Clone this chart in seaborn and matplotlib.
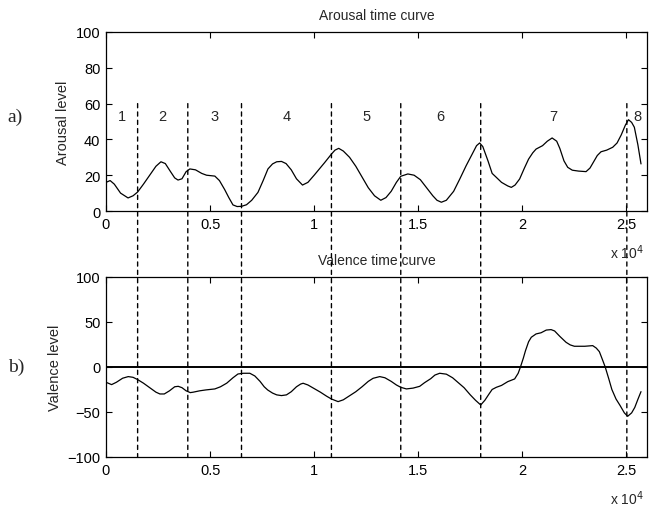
import numpy as np
import pandas as pd
import matplotlib
matplotlib.use("Agg")
import matplotlib.pyplot as plt
from matplotlib.patches import ConnectionPatch
import seaborn as sns

# arousal curve (sample index, level)
arousal_t = [0, 200, 400, 700, 1060, 1300, 1520, 1800, 2100, 2400, 2640, 2850,
             3100, 3300, 3460, 3650, 3850, 4030, 4300, 4600, 4830, 5230, 5450,
             5700, 5900, 6100, 6300, 6510, 6750, 7000, 7300, 7550, 7780, 8000,
             8200, 8430, 8650, 8900, 9150, 9440, 9700, 10000, 10500, 10830, 11000,
             11180, 11400, 11700, 12000, 12300, 12600, 12900, 13200, 13450, 13700,
             13950, 14160, 14500, 14800, 15100, 15400, 15700, 15900, 16110, 16350,
             16700, 17000, 17300, 17600, 17800, 17950, 18100, 18350, 18550, 18750,
             19000, 19300, 19470, 19650, 19870, 20100, 20300, 20500, 20660, 20970,
             21200, 21430, 21650, 21800, 22000, 22180, 22400, 22700, 23060, 23250,
             23400, 23600, 23780, 24050, 24340, 24550, 24750, 24950, 25100, 25250,
             25380, 25550, 25700]
arousal_v = [16, 17, 15, 10, 7.3, 8.5, 10.6, 15, 20, 25, 27.5, 26.5,
             22, 18.5, 17.3, 18, 22, 23.5, 23, 21, 20, 19.5, 17,
             12, 7.5, 3.4, 2.5, 2.6, 3.5, 6, 10.4, 17, 23.5, 26.3,
             27.5, 27.7, 26.5, 23, 18, 14.5, 16, 20, 27, 31.8, 34,
             35, 33.5, 30, 25, 19, 13, 8.5, 6, 7.5, 11,
             16, 19.4, 20.7, 20, 17.5, 13, 8.5, 6, 4.9, 6,
             11, 18, 25.3, 32, 36.5, 38, 36, 28, 21, 18.8,
             16, 14, 13.2, 14.5, 17.9, 24, 29, 32.5, 34.6, 36.5,
             39, 40.8, 39, 35, 28, 24.4, 22.8, 22.3, 22, 24,
             27, 31, 33.1, 34, 35.6, 38, 42.5, 48, 51, 49.5,
             46.8, 37, 26.3]

# valence curve
valence_t = [0, 270, 500, 800, 1070, 1300, 1520, 1800, 2100, 2400, 2590, 2800,
             3050, 3300, 3470, 3650, 3850, 4050, 4190, 4500, 4800, 5230, 5500,
             5800, 6100, 6340, 6600, 6910, 7150, 7400, 7600, 7770, 8000, 8200,
             8430, 8670, 8900, 9150, 9350, 9470, 9700, 10000, 10300, 10600, 10830,
             11150, 11400, 11700, 12000, 12300, 12600, 12830, 13150, 13400, 13700,
             13950, 14160, 14430, 14750, 15070, 15300, 15600, 15800, 16030, 16350,
             16650, 16900, 17200, 17500, 17750, 18000, 18200, 18400, 18550, 18750,
             19000, 19300, 19630, 19800, 19910, 20050, 20150, 20300, 20430, 20660,
             20900, 21150, 21380, 21550, 21800, 22100, 22300, 22500, 23000, 23380,
             23550, 23700, 23850, 23980, 24150, 24300, 24500, 24700, 24900, 25060,
             25250, 25400, 25550, 25700]
valence_v = [-17, -19.6, -17, -12.5, -10.7, -11.5, -14, -18, -23, -28, -30, -30,
             -26.5, -22, -21.5, -23, -26.5, -28.5, -28, -26.5, -25.5, -24.4, -22,
             -18, -12, -7.8, -7, -7, -10, -16, -22, -25.6, -29, -31,
             -31.8, -31, -27.5, -22, -19, -18.1, -20, -24, -28, -32.5, -35.6,
             -38.5, -36.5, -32, -27.5, -22, -16, -12.6, -10.7, -12, -16,
             -20, -22.6, -24.4, -23.5, -21.5, -17.5, -13, -9, -7, -8,
             -12, -17, -23, -31, -37, -42.2, -37, -30, -25, -22.6,
             -20.5, -16.3, -13.3, -7, 0, 10, 18, 28, 33, 36.7,
             38, 41, 41.5, 40, 34, 27.4, 24.5, 23, 23, 23.7,
             21, 17, 8, 0, -13, -25, -35.6, -43, -51, -54.8,
             -51, -45, -36, -27.4]

# segment boundaries and labels
boundaries = [1520, 3930, 6510, 10830, 14160, 18000, 25020]
segment_labels = ["1", "2", "3", "4", "5", "6", "7", "8"]
x_ticks = [0, 5000, 10000, 15000, 20000, 25000]
x_tick_labels = ["0", "0.5", "1", "1.5", "2", "2.5"]

sns.set_style("ticks")
plt.rcParams["font.family"] = ["Liberation Sans", "DejaVu Sans"]
plt.rcParams["font.size"] = 10
plt.rcParams["xtick.direction"] = "in"
plt.rcParams["ytick.direction"] = "in"
plt.rcParams["xtick.top"] = True
plt.rcParams["ytick.right"] = True

fig = plt.figure(figsize=(6.49, 5.10), dpi=100)
ax1 = fig.add_axes([0.1633, 0.5843, 0.834, 0.351])
ax2 = fig.add_axes([0.1633, 0.102, 0.834, 0.353])

df_a = pd.DataFrame({"t": arousal_t, "level": arousal_v})
df_v = pd.DataFrame({"t": valence_t, "level": valence_v})

sns.lineplot(data=df_a, x="t", y="level", ax=ax1, color="black", lw=0.9)
sns.lineplot(data=df_v, x="t", y="level", ax=ax2, color="black", lw=0.9)
ax2.axhline(0, color="black", lw=1.4)

for ax in (ax1, ax2):
    ax.set_xlim(0, 26000)
    ax.set_xticks(x_ticks)
    ax.set_xticklabels(x_tick_labels)
    ax.set_xlabel("")
    ax.tick_params(length=4, width=0.8, labelsize=10.5, pad=4, colors="black")
    for s in ax.spines.values():
        s.set_visible(True)
        s.set_linewidth(0.9)
        s.set_color("black")

ax1.set_ylim(0, 100)
ax1.set_yticks([0, 20, 40, 60, 80, 100])
ax2.set_ylim(-100, 100)
ax2.set_yticks([-100, -50, 0, 50, 100])

ax1.set_ylabel("Arousal level", labelpad=4, fontsize=10.5)
ax2.set_ylabel("Valence level", labelpad=4, fontsize=10.5)
ax1.set_title("Arousal time curve", pad=9, fontsize=10)
ax2.set_title("Valence time curve", pad=9, fontsize=10)

# dashed boundaries running from the top panel down through the bottom one
for b in boundaries:
    con = ConnectionPatch(xyA=(b, 60), coordsA=ax1.transData,
                          xyB=(b, -100), coordsB=ax2.transData,
                          color="black", lw=1.0, linestyle=(0, (3, 3)))
    fig.add_artist(con)

edges = [0] + boundaries + [26000]
for i, lab in enumerate(segment_labels):
    ax1.text((edges[i] + edges[i + 1]) / 2, 53, lab, ha="center", va="center", fontsize=10.5)

fig.text(0.966, 0.505, "x 10$^4$", ha="center", va="center", fontsize=10)
fig.text(0.966, 0.022, "x 10$^4$", ha="center", va="center", fontsize=10)

fig.text(0.012, 0.77, "a)", family="Liberation Serif", fontsize=14, ha="left", va="center")
fig.text(0.012, 0.28, "b)", family="Liberation Serif", fontsize=14, ha="left", va="center")

fig.savefig("out.png", dpi=100, facecolor="white")
